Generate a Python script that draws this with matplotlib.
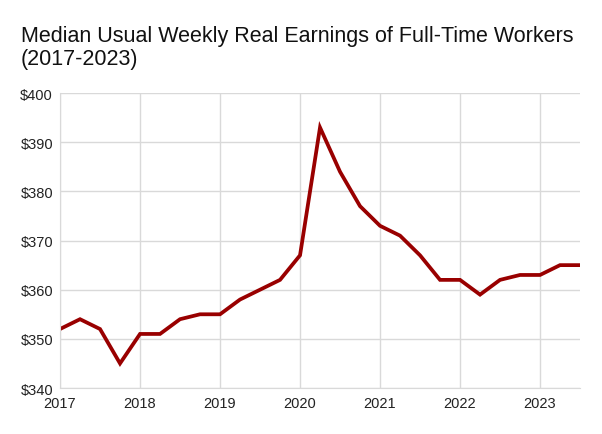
import matplotlib
matplotlib.use("Agg")
import matplotlib.pyplot as plt
from matplotlib.ticker import FuncFormatter

plt.rcParams['font.family'] = ['Liberation Sans', 'DejaVu Sans']

# quarterly values, 2017 Q1 .. 2023 Q3
quarters = [2017 + 0.25 * i for i in range(27)]
earnings = [352, 354, 352, 345, 351, 351, 354, 355, 355, 358, 360, 362,
            367, 393, 384, 377, 373, 371, 367, 362, 362, 359, 362, 363,
            363, 365, 365]
years = [2017, 2018, 2019, 2020, 2021, 2022, 2023]
y_ticks = [340, 350, 360, 370, 380, 390, 400]
title_lines = ['Median Usual Weekly Real Earnings of Full-Time Workers', '(2017-2023)']

fig = plt.figure(figsize=(6.02, 4.35), dpi=100)
ax = fig.add_axes([0.0997, 0.1057, 0.8638, 0.678])

ax.plot(quarters, earnings, color='#990000', linewidth=2.7, solid_joinstyle='miter')

ax.set_xlim(2017, 2023.5)
ax.set_ylim(340, 400)
ax.set_xticks(years)
ax.set_yticks(y_ticks)
ax.yaxis.set_major_formatter(FuncFormatter(lambda v, p: '$%d' % v))

ax.grid(True, color='#d9d9d9', linewidth=1)
ax.set_axisbelow(True)
ax.tick_params(length=0, labelsize=10.5, colors='#222222')
ax.tick_params(axis='y', pad=5)
ax.tick_params(axis='x', pad=6)
for spine in ('top', 'right'):
    ax.spines[spine].set_visible(False)
ax.spines['left'].set_color('#d9d9d9')
ax.spines['bottom'].set_color('#d9d9d9')

fig.text(0.035, 0.904, title_lines[0], fontsize=15.5, color='#111111', ha='left', va='baseline')
fig.text(0.035, 0.8506, title_lines[1], fontsize=15.5, color='#111111', ha='left', va='baseline')

fig.savefig('out.png', dpi=100)
